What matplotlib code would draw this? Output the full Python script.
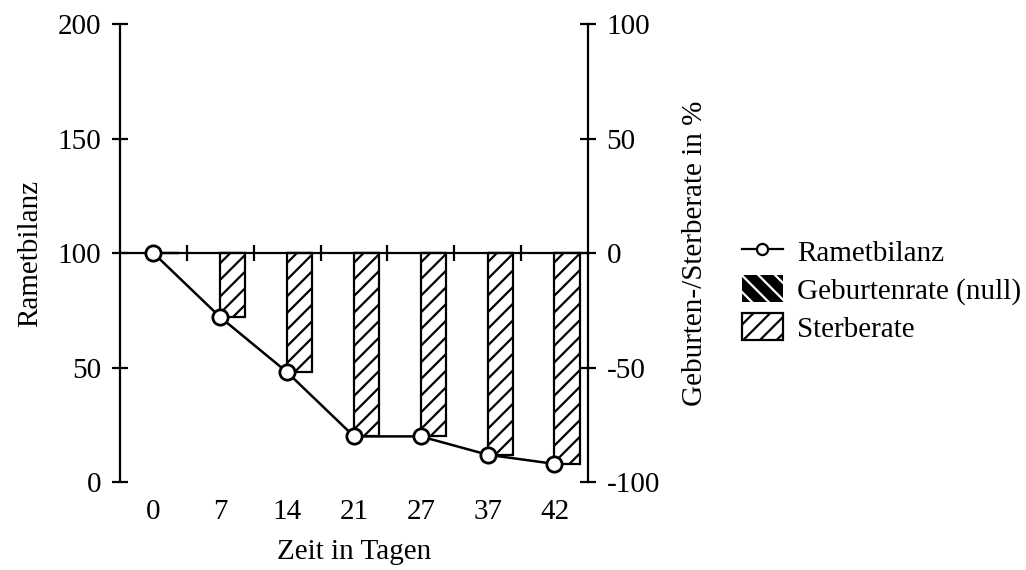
import matplotlib as mpl
mpl.use('Agg')
import matplotlib.pyplot as plt
from matplotlib.lines import Line2D
from matplotlib.patches import Patch
import numpy as np

# Daten
tage = ["0", "7", "14", "21", "27", "37", "42"]
rametbilanz = [100, 72, 48, 20, 20, 12, 8]
geburtenrate = [0, 0, 0, 0, 0, 0, 0]
sterberate = [0, -28, -52, -80, -80, -88, -92]

plt.rcParams['font.family'] = ['Liberation Serif', 'DejaVu Serif']
plt.rcParams['font.size'] = 21
plt.rcParams['axes.unicode_minus'] = False
plt.rcParams['hatch.linewidth'] = 1.6

fig = plt.figure(figsize=(10.26, 5.7), dpi=100)
ax = fig.add_axes([0.117, 0.154, 0.456, 0.804])
ax2 = ax.twinx()

x = np.arange(len(tage))

# Balken auf der rechten Achse
ax2.bar(x, geburtenrate, width=0.375, align='edge', facecolor='black',
        edgecolor='black', linewidth=1.6, hatch='\\\\')
ax2.bar(x, sterberate, width=0.375, align='edge', facecolor='white',
        edgecolor='black', linewidth=1.6, hatch='//')

# Linie auf der linken Achse, ueber den Balken
ax.set_zorder(ax2.get_zorder() + 1)
ax.patch.set_visible(False)
ax.plot(x, rametbilanz, color='black', linewidth=1.8, marker='o',
        markersize=11, markerfacecolor='white', markeredgecolor='black',
        markeredgewidth=2, clip_on=False, zorder=5)

ax.set_xlim(-0.5, len(tage) - 0.5)
ax.set_ylim(0, 200)
ax2.set_ylim(-100, 100)

ax.set_xticks(x, labels=tage)
ax.tick_params(axis='x', length=0, pad=12)
ax.set_yticks([0, 50, 100, 150, 200])
ax.tick_params(axis='y', direction='inout', length=11, width=1.6, pad=8)
ax2.set_yticks([-100, -50, 0, 50, 100])
ax2.tick_params(axis='y', direction='inout', length=11, width=1.6, pad=8)

for s in ['top', 'bottom', 'right']:
    ax.spines[s].set_visible(False)
for s in ['top', 'bottom', 'left']:
    ax2.spines[s].set_visible(False)
ax.spines['left'].set_linewidth(1.6)
ax2.spines['right'].set_linewidth(1.6)

# Nulllinie mit Teilstrichen zwischen den Tagen
sec = ax.secondary_xaxis(0.5)
sec.set_xticks(x[:-1] + 0.5, labels=[])
sec.tick_params(axis='x', direction='inout', length=11, width=1.6)
for sp in sec.spines.values():
    sp.set_linewidth(1.6)

ax.set_xlabel("Zeit in Tagen", labelpad=10)
ax.set_ylabel("Rametbilanz", labelpad=10)
ax2.set_ylabel("Geburten-/Sterberate in %", labelpad=16)

handles = [
    Line2D([], [], color='black', linewidth=1.6, marker='o', markersize=8,
           markerfacecolor='white', markeredgecolor='black', markeredgewidth=1.6),
    Patch(facecolor='black', edgecolor='white', hatch='\\\\', linewidth=0),
    Patch(facecolor='white', edgecolor='black', hatch='//', linewidth=1.6),
]
labels = ["Rametbilanz", "Geburtenrate (null)", "Sterberate"]
fig.legend(handles, labels, loc='center left', bbox_to_anchor=(0.723, 0.491),
           frameon=False, borderpad=0, borderaxespad=0, handlelength=1.4,
           handleheight=1.05, labelspacing=0.28, handletextpad=0.5)

plt.savefig("out.png", dpi=100)
